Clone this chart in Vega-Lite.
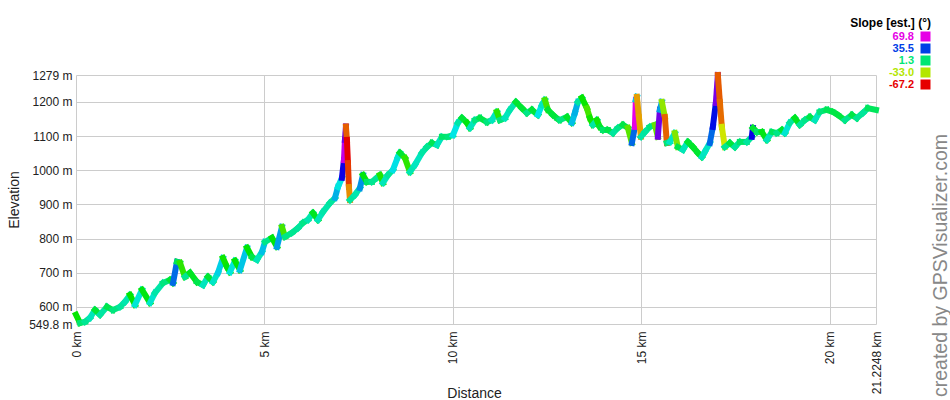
{
  "$schema": "https://vega.github.io/schema/vega-lite/v6.json",
  "width": 800,
  "height": 249,
  "autosize": {"type": "none"},
  "padding": {"left": 76, "top": 75, "right": 74, "bottom": 76},
  "background": "white",
  "title": {
    "text": "created by GPSVisualizer.com",
    "orient": "right",
    "anchor": "end",
    "frame": "group",
    "angle": 270,
    "align": "left",
    "baseline": "middle",
    "offset": -10,
    "dx": -73,
    "font": "Liberation Sans",
    "fontSize": 19.5,
    "fontWeight": "normal",
    "color": "#888888"
  },
  "config": {
    "view": {"stroke": null},
    "font": "Liberation Sans",
    "axis": {
      "domain": false,
      "ticks": false,
      "gridColor": "#cccccc",
      "gridWidth": 1,
      "gridOpacity": 1,
      "labelFont": "Liberation Sans",
      "labelFontSize": 12,
      "labelColor": "#222222",
      "titleFont": "Liberation Sans",
      "titleFontSize": 14,
      "titleFontWeight": "normal",
      "titleColor": "#222222",
      "labelOverlap": false,
      "labelFlush": false
    }
  },
  "data": {
    "values": [
      {"d": 0, "e": 577, "s": -12.7},
      {"d": 0.106, "e": 553, "s": 1.3},
      {"d": 0.239, "e": 556, "s": 5.2},
      {"d": 0.371, "e": 568, "s": 9.8},
      {"d": 0.504, "e": 591, "s": -6.0},
      {"d": 0.637, "e": 577, "s": 7.0},
      {"d": 0.822, "e": 600, "s": -3.2},
      {"d": 0.981, "e": 591, "s": 2.8},
      {"d": 1.167, "e": 600, "s": 6.4},
      {"d": 1.300, "e": 615, "s": 8.6},
      {"d": 1.432, "e": 635, "s": -12.3},
      {"d": 1.565, "e": 606, "s": 13.3},
      {"d": 1.751, "e": 650, "s": -10.2},
      {"d": 1.963, "e": 612, "s": 12.3},
      {"d": 2.095, "e": 641, "s": 7.8},
      {"d": 2.308, "e": 670, "s": 2.8},
      {"d": 2.493, "e": 679, "s": -6.4},
      {"d": 2.573, "e": 670, "s": 30.3},
      {"d": 2.679, "e": 732, "s": -2.1},
      {"d": 2.759, "e": 729, "s": -17.2},
      {"d": 2.891, "e": 688, "s": 5.2},
      {"d": 3.024, "e": 700, "s": -8.3},
      {"d": 3.210, "e": 673, "s": -3.2},
      {"d": 3.369, "e": 664, "s": 10.3},
      {"d": 3.501, "e": 688, "s": -6.4},
      {"d": 3.634, "e": 673, "s": 11.5},
      {"d": 3.767, "e": 700, "s": 18.0},
      {"d": 3.899, "e": 743, "s": -13.8},
      {"d": 4.005, "e": 717, "s": -10.6},
      {"d": 4.085, "e": 702, "s": 13.9},
      {"d": 4.218, "e": 735, "s": -11.5},
      {"d": 4.350, "e": 708, "s": 19.3},
      {"d": 4.536, "e": 773, "s": -11.5},
      {"d": 4.668, "e": 746, "s": -3.5},
      {"d": 4.801, "e": 738, "s": 9.8},
      {"d": 4.934, "e": 761, "s": 19.9},
      {"d": 5.013, "e": 790, "s": 3.7},
      {"d": 5.199, "e": 802, "s": -11.1},
      {"d": 5.332, "e": 776, "s": 23.6},
      {"d": 5.464, "e": 834, "s": -19.9},
      {"d": 5.544, "e": 805, "s": 3.7},
      {"d": 5.729, "e": 817, "s": 5.0},
      {"d": 5.889, "e": 831, "s": 6.4},
      {"d": 6.021, "e": 846, "s": 3.9},
      {"d": 6.154, "e": 855, "s": 8.6},
      {"d": 6.286, "e": 875, "s": -8.6},
      {"d": 6.419, "e": 855, "s": 9.8},
      {"d": 6.552, "e": 878, "s": 7.9},
      {"d": 6.737, "e": 904, "s": 6.4},
      {"d": 6.870, "e": 919, "s": 21.8},
      {"d": 6.950, "e": 951, "s": 14.3},
      {"d": 7.056, "e": 978, "s": 44.5},
      {"d": 7.109, "e": 1030, "s": 65.8},
      {"d": 7.135, "e": 1089, "s": 55.8},
      {"d": 7.162, "e": 1128, "s": -55.8},
      {"d": 7.188, "e": 1089, "s": -68.7},
      {"d": 7.215, "e": 1021, "s": -60.2},
      {"d": 7.241, "e": 951, "s": -50.1},
      {"d": 7.268, "e": 913, "s": 6.4},
      {"d": 7.401, "e": 928, "s": 8.6},
      {"d": 7.533, "e": 948, "s": 25.5},
      {"d": 7.613, "e": 986, "s": -10.7},
      {"d": 7.719, "e": 966, "s": 0},
      {"d": 7.851, "e": 966, "s": 5.2},
      {"d": 7.984, "e": 978, "s": 5.7},
      {"d": 8.064, "e": 986, "s": -16.1},
      {"d": 8.143, "e": 963, "s": 9.8},
      {"d": 8.276, "e": 986, "s": 6.4},
      {"d": 8.408, "e": 1001, "s": 16.0},
      {"d": 8.541, "e": 1039, "s": 12.8},
      {"d": 8.594, "e": 1051, "s": -6.4},
      {"d": 8.727, "e": 1036, "s": -17.2},
      {"d": 8.859, "e": 995, "s": 9.0},
      {"d": 8.992, "e": 1016, "s": 10.7},
      {"d": 9.178, "e": 1051, "s": 7.3},
      {"d": 9.310, "e": 1068, "s": 5.2},
      {"d": 9.443, "e": 1080, "s": -2.6},
      {"d": 9.576, "e": 1074, "s": 10.3},
      {"d": 9.708, "e": 1098, "s": 0},
      {"d": 9.867, "e": 1098, "s": 2.2},
      {"d": 10.000, "e": 1103, "s": 15.2},
      {"d": 10.133, "e": 1139, "s": 7.5},
      {"d": 10.239, "e": 1153, "s": -6.0},
      {"d": 10.371, "e": 1139, "s": -10.6},
      {"d": 10.451, "e": 1124, "s": 9.8},
      {"d": 10.584, "e": 1147, "s": 2.6},
      {"d": 10.716, "e": 1153, "s": -3.7},
      {"d": 10.902, "e": 1141, "s": 2.6},
      {"d": 11.034, "e": 1147, "s": 10.3},
      {"d": 11.167, "e": 1171, "s": -16.8},
      {"d": 11.247, "e": 1147, "s": 2.6},
      {"d": 11.379, "e": 1153, "s": 10.3},
      {"d": 11.512, "e": 1177, "s": 8.2},
      {"d": 11.671, "e": 1200, "s": -6.5},
      {"d": 11.830, "e": 1182, "s": -6.0},
      {"d": 11.963, "e": 1168, "s": 3.9},
      {"d": 12.095, "e": 1177, "s": -5.4},
      {"d": 12.255, "e": 1162, "s": 15.3},
      {"d": 12.361, "e": 1191, "s": 10.6},
      {"d": 12.440, "e": 1206, "s": -20.0},
      {"d": 12.520, "e": 1177, "s": -6.4},
      {"d": 12.653, "e": 1162, "s": -5.2},
      {"d": 12.785, "e": 1150, "s": -3.2},
      {"d": 12.838, "e": 1147, "s": 2.8},
      {"d": 13.024, "e": 1156, "s": -7.3},
      {"d": 13.156, "e": 1139, "s": 20.0},
      {"d": 13.236, "e": 1168, "s": 21.9},
      {"d": 13.316, "e": 1200, "s": 6.5},
      {"d": 13.422, "e": 1212, "s": -12.8},
      {"d": 13.554, "e": 1182, "s": -20.0},
      {"d": 13.634, "e": 1153, "s": -14.1},
      {"d": 13.714, "e": 1133, "s": 7.5},
      {"d": 13.820, "e": 1147, "s": -14.1},
      {"d": 13.899, "e": 1127, "s": -6.4},
      {"d": 13.979, "e": 1118, "s": 0},
      {"d": 14.111, "e": 1118, "s": -3.9},
      {"d": 14.244, "e": 1109, "s": 6.4},
      {"d": 14.377, "e": 1124, "s": 3.9},
      {"d": 14.509, "e": 1133, "s": -3.9},
      {"d": 14.642, "e": 1124, "s": -22.5},
      {"d": 14.748, "e": 1080, "s": 30.6},
      {"d": 14.828, "e": 1127, "s": 71.4},
      {"d": 14.854, "e": 1206, "s": 18.7},
      {"d": 14.881, "e": 1215, "s": -48.0},
      {"d": 14.934, "e": 1156, "s": -47.5},
      {"d": 14.987, "e": 1098, "s": 7.5},
      {"d": 15.093, "e": 1112, "s": 6.4},
      {"d": 15.225, "e": 1127, "s": 2.6},
      {"d": 15.358, "e": 1133, "s": -23.7},
      {"d": 15.438, "e": 1098, "s": 56.1},
      {"d": 15.491, "e": 1177, "s": 23.4},
      {"d": 15.544, "e": 1200, "s": -29.0},
      {"d": 15.623, "e": 1156, "s": -55.1},
      {"d": 15.676, "e": 1080, "s": 2.2},
      {"d": 15.756, "e": 1083, "s": 11.1},
      {"d": 15.888, "e": 1109, "s": -27.3},
      {"d": 15.968, "e": 1068, "s": -3.5},
      {"d": 16.101, "e": 1060, "s": 9.8},
      {"d": 16.233, "e": 1083, "s": -6.4},
      {"d": 16.366, "e": 1068, "s": -7.3},
      {"d": 16.498, "e": 1051, "s": -6.5},
      {"d": 16.605, "e": 1039, "s": 10.6},
      {"d": 16.684, "e": 1054, "s": 11.1},
      {"d": 16.817, "e": 1080, "s": 30.6},
      {"d": 16.896, "e": 1127, "s": 41.4},
      {"d": 16.976, "e": 1197, "s": 57.1},
      {"d": 17.029, "e": 1279, "s": -56.1},
      {"d": 17.082, "e": 1200, "s": -54.0},
      {"d": 17.135, "e": 1127, "s": -36.4},
      {"d": 17.214, "e": 1068, "s": 5.2},
      {"d": 17.347, "e": 1080, "s": -5.2},
      {"d": 17.480, "e": 1068, "s": 6.4},
      {"d": 17.612, "e": 1083, "s": 0},
      {"d": 17.798, "e": 1083, "s": 6.4},
      {"d": 17.931, "e": 1098, "s": 44.4},
      {"d": 17.957, "e": 1124, "s": -6.5},
      {"d": 18.064, "e": 1112, "s": 0},
      {"d": 18.196, "e": 1112, "s": -9.8},
      {"d": 18.329, "e": 1089, "s": 9.8},
      {"d": 18.462, "e": 1112, "s": -1.3},
      {"d": 18.594, "e": 1109, "s": 3.9},
      {"d": 18.727, "e": 1118, "s": -6.4},
      {"d": 18.806, "e": 1109, "s": 12.8},
      {"d": 18.939, "e": 1139, "s": 6.0},
      {"d": 19.071, "e": 1153, "s": -8.6},
      {"d": 19.204, "e": 1133, "s": 6.0},
      {"d": 19.337, "e": 1147, "s": 3.9},
      {"d": 19.469, "e": 1156, "s": -3.9},
      {"d": 19.602, "e": 1147, "s": 10.3},
      {"d": 19.734, "e": 1171, "s": 1.8},
      {"d": 19.920, "e": 1177, "s": -2.2},
      {"d": 20.079, "e": 1171, "s": -3.9},
      {"d": 20.212, "e": 1162, "s": -4.6},
      {"d": 20.398, "e": 1147, "s": 4.6},
      {"d": 20.585, "e": 1162, "s": -3.9},
      {"d": 20.717, "e": 1153, "s": 5.4},
      {"d": 20.877, "e": 1168, "s": 6.0},
      {"d": 21.009, "e": 1182, "s": -1.4},
      {"d": 21.2248, "e": 1177, "s": -1.4}
    ]
  },
  "transform": [
    {
      "window": [
        {"op": "lead", "field": "d", "as": "d2"},
        {"op": "lead", "field": "e", "as": "e2"}
      ],
      "sort": [{"field": "d"}]
    },
    {"filter": "datum.d2 != null"}
  ],
  "mark": {"type": "rule", "strokeWidth": 6, "strokeCap": "square"},
  "encoding": {
    "x": {
      "field": "d",
      "type": "quantitative",
      "scale": {"domain": [0, 21.2248], "nice": false, "zero": false},
      "axis": {
        "title": "Distance",
        "values": [0, 5, 10, 15, 20, 21.2248],
        "labelExpr": "datum.value + ' km'",
        "labelAngle": -90,
        "labelPadding": 7,
        "titleX": 398,
        "titleY": 69,
        "titleBaseline": "middle"
      }
    },
    "x2": {"field": "d2"},
    "y": {
      "field": "e",
      "type": "quantitative",
      "scale": {"domain": [549.8, 1279], "nice": false, "zero": false},
      "axis": {
        "title": "Elevation",
        "values": [549.8, 600, 700, 800, 900, 1000, 1100, 1200, 1279],
        "labelExpr": "datum.value + ' m'",
        "labelPadding": 4,
        "titleX": -62,
        "titleY": 124.5,
        "titleAngle": -90,
        "titleAlign": "center",
        "titleBaseline": "middle"
      }
    },
    "y2": {"field": "e2"},
    "color": {
      "field": "s",
      "type": "quantitative",
      "scale": {
        "type": "linear",
        "domain": [-67.2, -33.0, 1.3, 35.5, 69.8],
        "range": ["#e60000", "#b3e600", "#00e673", "#0040e6", "#e600e6"],
        "interpolate": "hsl",
        "clamp": true
      },
      "legend": {
        "type": "symbol",
        "values": [69.8, 35.5, 1.3, -33.0, -67.2],
        "title": "Slope [est.] (°)",
        "orient": "none",
        "legendX": 774,
        "legendY": -57,
        "direction": "vertical",
        "symbolType": "square",
        "symbolSize": 100,
        "symbolStrokeWidth": 0,
        "labelAlign": "right",
        "labelOffset": -17,
        "labelFont": "Liberation Sans",
        "labelFontSize": 11,
        "labelFontWeight": "bold",
        "labelExpr": "replace(format(datum.value, '.1f'), '\u2212', '-')",
        "titleFont": "Liberation Sans",
        "titleFontSize": 12,
        "titleFontWeight": "bold",
        "titleColor": "#000000",
        "titleAnchor": "end",
        "titlePadding": 1,
        "rowPadding": 0,
        "encode": {
          "labels": {"update": {"fill": {"scale": "color", "field": "value"}}},
          "symbols": {
            "update": {
              "fill": {"scale": "color", "field": "value"},
              "stroke": {"value": "transparent"},
              "shape": {"value": "square"},
              "opacity": {"value": 1}
            }
          }
        }
      }
    }
  }
}
